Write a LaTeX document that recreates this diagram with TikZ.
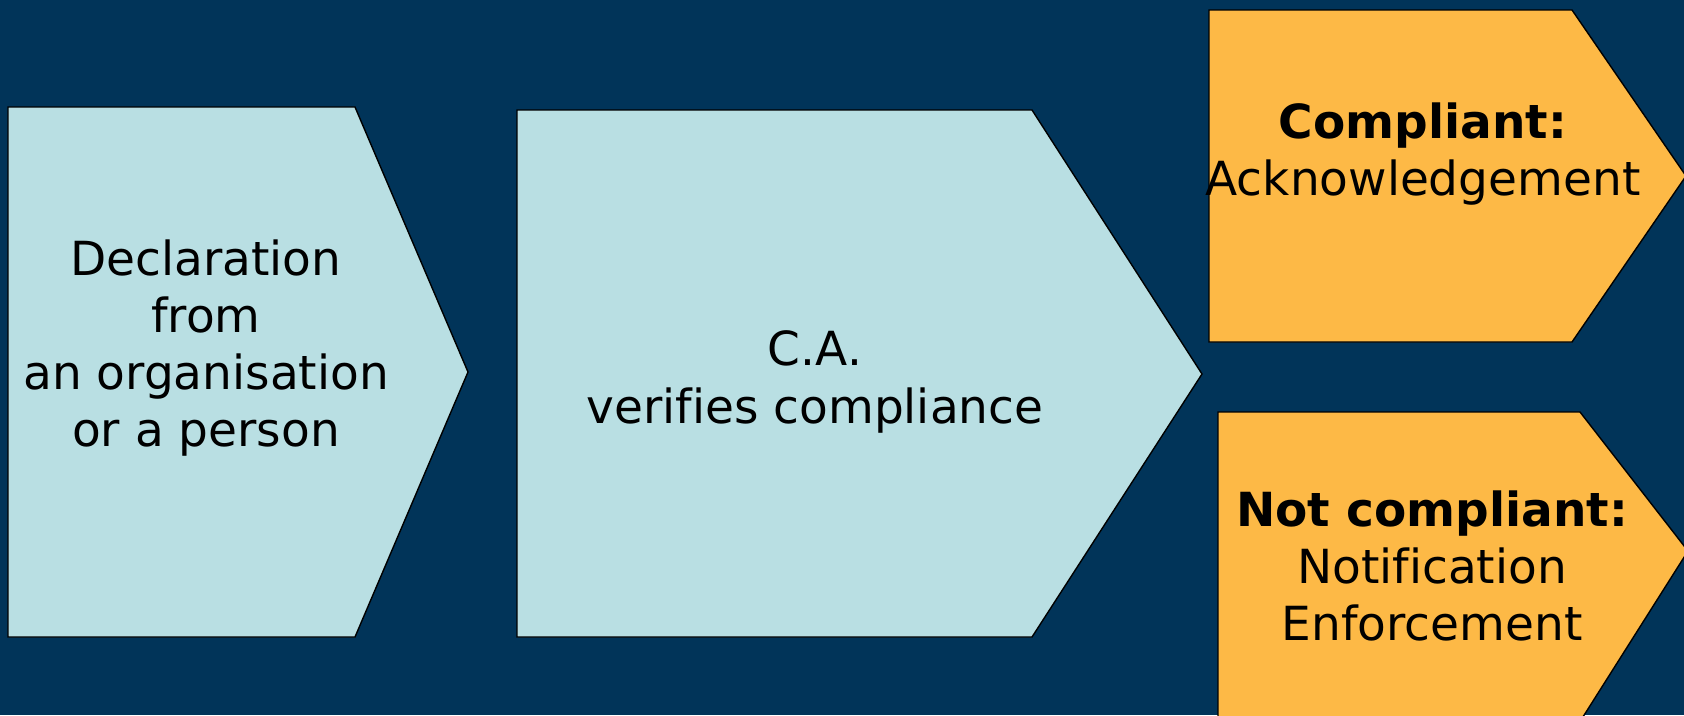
\documentclass[tikz,border=0pt]{standalone}
\usepackage{fontspec}
\setmainfont{DejaVu Sans}[Ligatures=NoCommon]
\definecolor{navy}{HTML}{013459}
\definecolor{paleblue}{HTML}{B9DFE3}
\definecolor{amber}{HTML}{FDB946}
\tikzset{
  stagebox/.style={draw=black, line width=1.4pt, line join=miter},
  bluebox/.style={stagebox, fill=paleblue},
  amberbox/.style={stagebox, fill=amber},
  label/.style={align=center, inner sep=0pt, text=black},
}
\begin{document}
\begin{tikzpicture}[x=1pt, y=-1pt]
  % page and background
  \useasboundingbox (0,0) rectangle (1684,715);
  \fill[navy] (0,0) rectangle (1684,715);

  % pentagon arrows of the process
  \draw[bluebox] (8,107) -- (355,107) -- (468,372) -- (355,637) -- (8,637) -- cycle;
  \draw[bluebox] (517,110) -- (1032,110) -- (1202,374) -- (1032,637) -- (517,637) -- cycle;
  \begin{scope}
    \clip (0,0) rectangle (1684,715);
    \draw[amberbox] (1209,10) -- (1572,10) -- (1686,176) -- (1572,342) -- (1209,342) -- cycle;
    \draw[amberbox] (1218,412) -- (1580,412) -- (1688,551) -- (1581,720) -- (1218,720) -- cycle;
  \end{scope}

  % texts
  \node[label, font=\fontsize{47}{57}\selectfont] (decl) at (206,348)
    {Declaration\\from\\an organisation\\or a person};
  \node[label, font=\fontsize{47}{58}\selectfont] (verify) at (815,382)
    {C.A.\\verifies compliance};
  \node[label, font=\fontsize{47}{57}\selectfont] (ok) at (1423,154)
    {\textbf{Compliant:}\\Acknowledgement};
  \node[label, font=\fontsize{47}{57}\selectfont] (notok) at (1432,566)
    {\textbf{Not compliant:}\\Notification\\Enforcement};
\end{tikzpicture}
\end{document}
